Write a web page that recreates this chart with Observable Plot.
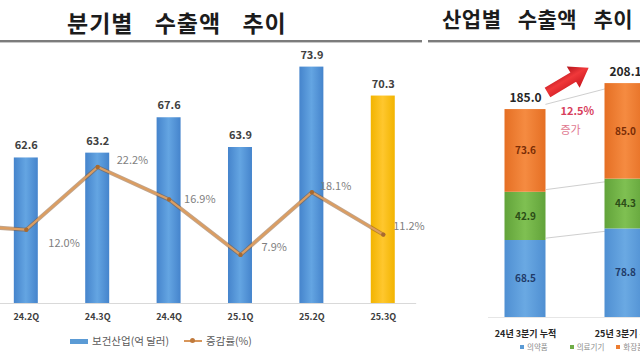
<!DOCTYPE html>
<html>
<head>
<meta charset="utf-8">
<script src="https://cdn.jsdelivr.net/npm/d3@7"></script>
<script src="https://cdn.jsdelivr.net/npm/@observablehq/plot@0.6"></script>
<style>
html,body{margin:0;padding:0;background:#fff;}
#page{position:relative;width:640px;height:360px;overflow:hidden;font-family:"Noto Sans CJK KR","Noto Sans",sans-serif;}
.title{position:absolute;font-weight:700;color:#1c1c1c;white-space:nowrap;line-height:1;}
.rule{position:absolute;top:40px;height:2px;background:#7c7c7c;box-shadow:0 1px 0 #c8c8c8;}
#left{position:absolute;top:45px;left:-79.4px;width:536px;}
#right{position:absolute;top:45px;left:428px;width:294px;}
.legend{position:absolute;white-space:nowrap;display:flex;align-items:center;line-height:1;}
.legend span{display:inline-block;}
</style>
</head>
<body>
<svg width="0" height="0" style="position:absolute">
  <defs>
    <linearGradient id="gBlue" x1="0" x2="1" y1="0" y2="0">
      <stop offset="0" stop-color="#4584cc"/><stop offset="0.5" stop-color="#64a5e2"/><stop offset="1" stop-color="#4584cc"/>
    </linearGradient>
    <linearGradient id="gYellow" x1="0" x2="1" y1="0" y2="0">
      <stop offset="0" stop-color="#f2b400"/><stop offset="0.5" stop-color="#ffc72e"/><stop offset="1" stop-color="#f2b400"/>
    </linearGradient>
    <linearGradient id="gPharma" x1="0" x2="1" y1="0" y2="0">
      <stop offset="0" stop-color="#4f8fd2"/><stop offset="0.5" stop-color="#6aa9e3"/><stop offset="1" stop-color="#4f8fd2"/>
    </linearGradient>
    <linearGradient id="gDevice" x1="0" x2="1" y1="0" y2="0">
      <stop offset="0" stop-color="#62a33a"/><stop offset="0.5" stop-color="#7fc052"/><stop offset="1" stop-color="#62a33a"/>
    </linearGradient>
    <linearGradient id="gCos" x1="0" x2="1" y1="0" y2="0">
      <stop offset="0" stop-color="#e56f24"/><stop offset="0.5" stop-color="#f58b41"/><stop offset="1" stop-color="#e56f24"/>
    </linearGradient>
    <linearGradient id="gArrow" x1="0" x2="1" y1="0" y2="0">
      <stop offset="0" stop-color="#b0121a"/><stop offset="0.45" stop-color="#f0383a"/><stop offset="1" stop-color="#c8161e"/>
    </linearGradient>
  </defs>
</svg>
<div id="page">
  <div class="title" style="left:67px;top:11px;font-size:23px;word-spacing:15px;letter-spacing:1px;">분기별 수출액 추이</div>
  <div class="title" style="left:442px;top:8px;font-size:21px;word-spacing:11px;letter-spacing:0.5px;">산업별 수출액 추이</div>
  <div class="rule" style="left:0;width:422px;"></div>
  <div class="rule" style="left:428px;width:212px;"></div>
  <div id="left"></div>
  <div id="right"></div>
  <div class="legend" style="left:70px;top:336px;font-size:10.5px;color:#595959;">
    <span style="width:18px;height:5px;background:#5b9bd5;margin-right:4px;"></span><span>보건산업(억 달러)</span>
    <span style="position:relative;width:18px;height:2px;background:#d8965a;margin-left:15px;margin-right:4px;"><span style="position:absolute;left:6px;top:-2px;width:5px;height:5px;border-radius:50%;background:#c07a3c;"></span></span><span>증감률(%)</span>
  </div>
  <div class="legend" style="left:520px;top:343px;font-size:7.5px;color:#8a8a8a;">
    <span style="width:4px;height:4px;background:#5b9bd5;margin-right:3px;"></span><span>의약품</span>
    <span style="width:4px;height:4px;background:#70ad47;margin-left:22px;margin-right:3px;"></span><span>의료기기</span>
    <span style="width:4px;height:4px;background:#ed7d31;margin-left:12px;margin-right:3px;"></span><span>화장품</span>
  </div>
</div>
<script>
// ---- data: left panel (quarterly exports, 억 달러, and growth %) ----
const quarters = ["24.2Q", "24.3Q", "24.4Q", "25.1Q", "25.2Q", "25.3Q"];
const exportValues = [62.6, 63.2, 67.6, 63.9, 73.9, 70.3];
// growth line starts from the preceding quarter, which is cut off at the left edge
const lineQuarters = ["24.1Q", "24.2Q", "24.3Q", "24.4Q", "25.1Q", "25.2Q", "25.3Q"];
const growthRates = [12.8, 12.0, 22.2, 16.9, 7.9, 18.1, 11.2];

// ---- data: right panel (industry exports, cumulative to Q3) ----
const industryPeriods = ["24년 3분기 누적", "25년 3분기 누적"];
const industries = ["의약품", "의료기기", "화장품"];
const pharmaValues = [68.5, 78.8];
const deviceValues = [42.9, 44.3];
const cosmeticsValues = [73.6, 85.0];
const growthWord = "증가";

// ---- left chart ----
const yMinL = 44.5, yMaxL = 74.1, pctMaxL = 38.7;
const pctToY = d3.scaleLinear([0, pctMaxL], [yMinL, yMaxL]);
const barRows = quarters.map((q, i) => ({q, v: exportValues[i]}));
const lineRows = lineQuarters.map((q, i) => ({q, g: growthRates[i]}));
const highlightQ = quarters[quarters.length - 1];
const pctLabelOffsets = {"24.2Q": [22, 14], "24.3Q": [19, -6], "24.4Q": [15, 0], "25.1Q": [21, -7], "25.2Q": [8, -6], "25.3Q": [10, -8]};

const baseStyle = {fontFamily: '"Noto Sans CJK KR","Noto Sans",sans-serif', background: "transparent", maxWidth: "none", overflow: "visible"};

const leftPlot = Plot.plot({
  width: 535.2, height: 285,
  marginLeft: 0, marginRight: 40, marginTop: 20, marginBottom: 27,
  style: {...baseStyle, fontSize: "9px", color: "#404040"},
  x: {type: "band", domain: lineQuarters, paddingInner: 0.664, paddingOuter: 0.3, align: 0.5, round: false, label: null},
  y: {domain: [yMinL, yMaxL], axis: null},
  marks: [
    Plot.ruleY([yMinL], {stroke: "#d9d9d9"}),
    Plot.barY(barRows, {filter: d => d.q !== highlightQ, x: "q", y1: yMinL, y2: "v", fill: "url(#gBlue)"}),
    Plot.barY(barRows, {filter: d => d.q === highlightQ, x: "q", y1: yMinL, y2: "v", fill: "url(#gYellow)"}),
    Plot.text(barRows, {x: "q", y: "v", text: d => d.v.toFixed(1), dy: -12, fontSize: 11, fontWeight: "bold", fill: "#404040"}),
    Plot.line(lineRows, {x: "q", y: d => pctToY(d.g), stroke: "#8c5a2e", strokeWidth: 4, strokeOpacity: 0.55}),
    Plot.line(lineRows, {x: "q", y: d => pctToY(d.g), stroke: "#dc9d60", strokeWidth: 2.2}),
    Plot.dot(lineRows, {x: "q", y: d => pctToY(d.g), r: 2.2, fill: "#a86a30"}),
    ...lineRows.filter(d => pctLabelOffsets[d.q]).map(d => Plot.text([d], {
      x: "q", y: r => pctToY(r.g), text: r => r.g.toFixed(1) + "%",
      dx: pctLabelOffsets[d.q][0], dy: pctLabelOffsets[d.q][1],
      textAnchor: "start", fontSize: 11, fill: "#7f7f7f"
    })),
    Plot.axisX({ticks: quarters, tickSize: 0, tickPadding: 10, fontSize: 9, fontWeight: "bold", fill: "#404040"})
  ]
});
document.getElementById("left").append(leftPlot);

// ---- right chart ----
const seriesArrays = [pharmaValues, deviceValues, cosmeticsValues];
const stackRows = [];
industryPeriods.forEach((p, i) => seriesArrays.forEach((arr, j) => stackRows.push({p, ind: industries[j], v: arr[i]})));
const totals = industryPeriods.map((p, i) => seriesArrays.reduce((s, arr) => s + arr[i], 0));
const totalRows = industryPeriods.map((p, i) => ({p, t: totals[i]}));
const growthPct = (totals[1] / totals[0] - 1) * 100;
const cum = industryPeriods.map((p, i) => {
  let s = 0; return seriesArrays.map(arr => (s += arr[i]));
});
const connRows = industries.map((ind, j) => ({p1: industryPeriods[0], p2: industryPeriods[1], y1: cum[0][j], y2: cum[1][j]}));
const arrowRows = [{p1: industryPeriods[0], p2: industryPeriods[1], t1: totals[0], t2: totals[1]}];
const segLabelColors = ["#1f3a68", "#2c4d17", "#7a2d06"];

// filled block-arrow shape for the growth arrow
const blockArrow = {
  draw(ctx, l) {
    const head = 18, half = 5.5, wing = 12.5;
    ctx.moveTo(-half, 0);
    ctx.lineTo(-half, -(l - head));
    ctx.lineTo(-wing, -(l - head));
    ctx.lineTo(0, -l);
    ctx.lineTo(wing, -(l - head));
    ctx.lineTo(half, -(l - head));
    ctx.lineTo(half, 0);
    ctx.closePath();
  }
};

const rightPlot = Plot.plot({
  width: 294, height: 300,
  marginLeft: 0, marginRight: 0, marginTop: 20, marginBottom: 28,
  style: {...baseStyle, fontSize: "9px", color: "#262626"},
  x: {type: "band", domain: industryPeriods, paddingInner: 0.59, paddingOuter: 0.765, align: 0.5, round: false, label: null},
  y: {domain: [0, 224.2], axis: null},
  color: {domain: industries, range: ["url(#gPharma)", "url(#gDevice)", "url(#gCos)"]},
  marks: [
    Plot.ruleY([0], {stroke: "#e6e6e6", insetLeft: 60}),
    Plot.arrow(connRows, {x1: "p1", y1: "y1", x2: "p2", y2: "y2", headLength: 0, insetStart: 21, insetEnd: 21, stroke: "#cfcfcf", strokeWidth: 1}),
    Plot.barY(stackRows, {x: "p", y: "v", fill: "ind"}),
    ...industries.map((ind, j) => Plot.text(stackRows, Plot.stackY({
      x: "p", y: "v", text: d => d.ind === ind ? d.v.toFixed(1) : "",
      fill: segLabelColors[j], fontSize: 10, fontWeight: "bold"
    }))),
    Plot.text(totalRows, {x: "p", y: "t", text: d => d.t.toFixed(1), dy: -11, fontSize: 12, fontWeight: "bold", fill: "#262626"}),
    Plot.vector(arrowRows, {x: "p1", y: "t1", anchor: "start", dx: 22, dy: -17, length: 48, rotate: 59, shape: blockArrow, fill: "url(#gArrow)", stroke: "none"}),
    Plot.text(arrowRows, {x: "p1", y: "t1", text: () => growthPct.toFixed(1) + "%", dx: 35, dy: 2, textAnchor: "start", fontSize: 11, fontWeight: "bold", fill: "#d8405c"}),
    Plot.text(arrowRows, {x: "p1", y: "t1", text: () => growthWord, dx: 35, dy: 21, textAnchor: "start", fontSize: 11, fill: "#e07890"}),
    Plot.axisX({tickSize: 0, tickPadding: 13, fontSize: 9, fontWeight: "bold", fill: "#262626"})
  ]
});
document.getElementById("right").append(rightPlot);
</script>
</body>
</html>
